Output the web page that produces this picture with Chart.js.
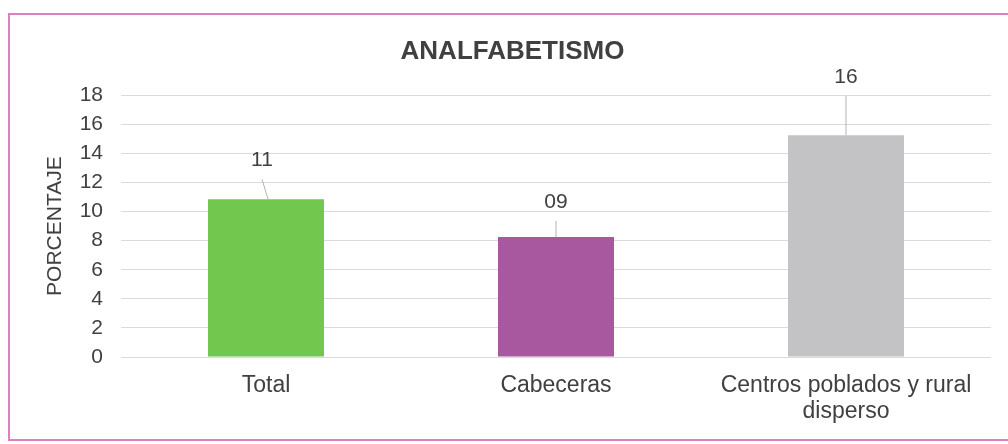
<!DOCTYPE html>
<html>
<head>
<meta charset="utf-8">
<script src="https://cdn.jsdelivr.net/npm/chart.js@4"></script>
<style>
  html, body { margin: 0; padding: 0; background: #fff; }
  #wrap { position: relative; width: 1008px; height: 444px; overflow: hidden; }
  #frame { position: absolute; left: 8px; top: 13px; width: 1010px; height: 428px;
           border: 2px solid #e27fbf; box-sizing: border-box; }
  canvas { position: absolute; left: 0; top: 0; }
</style>
</head>
<body>
<div id="wrap">
  <div id="frame"></div>
  <canvas id="c" width="1008" height="444"></canvas>
</div>
<script>
const categories = ["Total", "Cabeceras", ["Centros poblados y rural", "disperso"]];
const values = [10.85, 8.25, 15.25];
const valueLabels = ["11", "09", "16"];
const barColors = ["#72c84f", "#a8589f", "#c3c2c4"];
const yTicks = [0, 2, 4, 6, 8, 10, 12, 14, 16, 18];

const TEXT = "#404040";
const FONT = "'Liberation Sans', Arial, sans-serif";

const leaderLabels = {
  id: "leaderLabels",
  afterDatasetsDraw(chart, args, opts) {
    const ctx = chart.ctx;
    const meta = chart.getDatasetMeta(0);
    ctx.save();
    ctx.font = "21px " + FONT;
    ctx.fillStyle = TEXT;
    ctx.textAlign = "center";
    ctx.textBaseline = "middle";
    meta.data.forEach((bar, i) => {
      const lx = bar.x + opts.dx[i];
      const ly = bar.y - opts.rise[i];
      ctx.strokeStyle = "#b4b4b4";
      ctx.lineWidth = 1;
      ctx.beginPath();
      ctx.moveTo(lx, ly + 19);
      ctx.lineTo(bar.x + opts.endDx[i], bar.y);
      ctx.stroke();
      ctx.fillText(valueLabels[i], lx, ly);
    });
    ctx.restore();
  }
};

new Chart(document.getElementById("c"), {
  type: "bar",
  data: {
    labels: categories,
    datasets: [{
      data: values,
      backgroundColor: barColors,
      borderWidth: 0,
      barPercentage: 0.4,
      categoryPercentage: 1.0
    }]
  },
  options: {
    responsive: false,
    animation: false,
    layout: { padding: { left: 34, right: 17, top: 0, bottom: 0 } },
    plugins: {
      legend: { display: false },
      tooltip: { enabled: false },
      title: {
        display: true,
        text: "ANALFABETISMO",
        color: TEXT,
        font: { family: FONT, size: 26, weight: "bold", lineHeight: 1.2 },
        padding: { top: 36, bottom: 28 }
      },
      leaderLabels: { dx: [-4, 0, 0], endDx: [2, 0, 0], rise: [39, 35, 58] }
    },
    scales: {
      x: {
        grid: { display: false, drawTicks: false },
        border: { display: false },
        ticks: { color: TEXT, font: { family: FONT, size: 23, lineHeight: 1.15 }, padding: 15, maxRotation: 0, autoSkip: false },
        afterFit(s) { s.height = 87; }
      },
      y: {
        min: 0, max: 18,
        afterBuildTicks(s) { s.ticks = yTicks.map(v => ({ value: v })); },
        grid: { color: "#dadada", lineWidth: 1, drawTicks: false },
        border: { display: false },
        ticks: { color: TEXT, font: { family: FONT, size: 21 }, padding: 18 },
        title: {
          display: true, text: "PORCENTAJE", color: TEXT,
          font: { family: FONT, size: 21, lineHeight: 1.2 },
          padding: { top: 9, bottom: 0 }
        },
        afterFit(s) { s.width = 87; }
      }
    }
  },
  plugins: [leaderLabels]
});
</script>
</body>
</html>
